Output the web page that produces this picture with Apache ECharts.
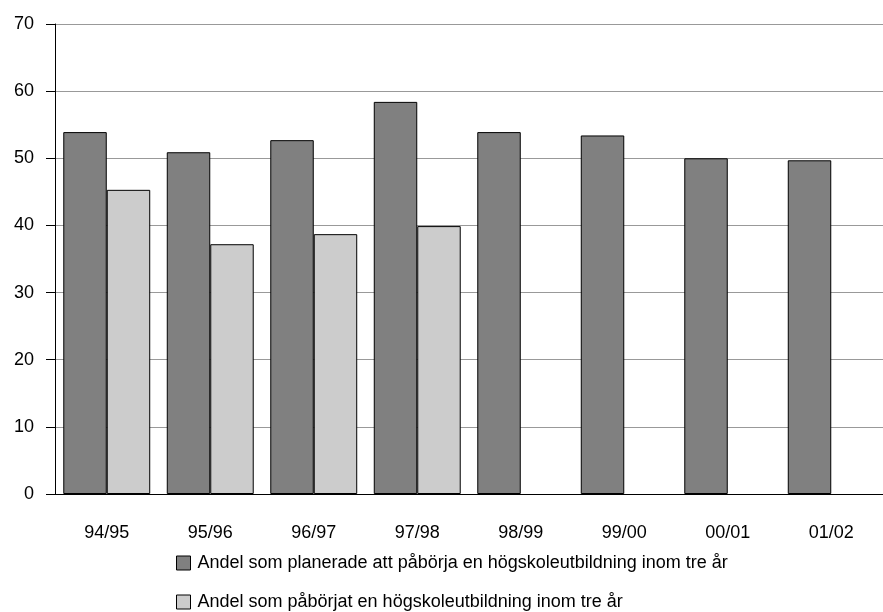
<!DOCTYPE html>
<html>
<head>
<meta charset="utf-8">
<script src="https://cdn.jsdelivr.net/npm/echarts@6/dist/echarts.min.js"></script>
<style>
  html, body { margin: 0; padding: 0; background: #fff; }
  #chart { width: 883px; height: 612px; }
</style>
</head>
<body>
<div id="chart"></div>
<script>
// data
var categories = ['94/95', '95/96', '96/97', '97/98', '98/99', '99/00', '00/01', '01/02'];
var planned = [53.9, 50.9, 52.7, 58.4, 53.9, 53.4, 50.0, 49.7];
var started = [45.3, 37.2, 38.7, 39.9, null, null, null, null];
var yTicks = [0, 10, 20, 30, 40, 50, 60, 70];

var plannedName = 'Andel som planerade att påbörja en högskoleutbildning inom tre år';
var startedName = 'Andel som påbörjat en högskoleutbildning inom tre år';

var chart = echarts.init(document.getElementById('chart'));
var font = 'Liberation Sans, Arial, sans-serif';

chart.setOption({
    animation: false,
    backgroundColor: '#fff',
    textStyle: { fontFamily: font },
    grid: { left: 55, right: 0, top: 24, bottom: 118 },
    legend: {
        orient: 'vertical',
        left: 176,
        top: 554,
        height: 70,
        padding: 0,
        icon: 'rect',
        itemWidth: 14,
        itemHeight: 14,
        itemGap: 21,
        itemStyle: { borderColor: '#000', borderWidth: 1 },
        textStyle: { fontSize: 18, color: '#000', fontFamily: font, padding: [0, 0, 0, 2] },
        data: [plannedName, startedName]
    },
    xAxis: {
        type: 'category',
        data: categories,
        axisLine: { lineStyle: { color: '#000', width: 1 } },
        axisTick: { show: false },
        axisLabel: { color: '#000', fontSize: 18, margin: 30 }
    },
    yAxis: {
        type: 'value',
        min: yTicks[0],
        max: yTicks[yTicks.length - 1],
        interval: 10,
        axisLine: { show: true, lineStyle: { color: '#000', width: 1 } },
        axisTick: { show: true, inside: false, length: 9, lineStyle: { color: '#000' } },
        axisLabel: { color: '#000', fontSize: 18, margin: 21 },
        splitLine: { lineStyle: { color: '#999', width: 1 } }
    },
    series: [
        {
            name: plannedName,
            type: 'bar',
            data: planned,
            barGap: '0%',
            barCategoryGap: '16%',
            itemStyle: { color: '#808080', borderColor: '#000', borderWidth: 1 }
        },
        {
            name: startedName,
            type: 'bar',
            data: started,
            itemStyle: { color: '#cccccc', borderColor: '#000', borderWidth: 1 }
        }
    ]
});
</script>
</body>
</html>
